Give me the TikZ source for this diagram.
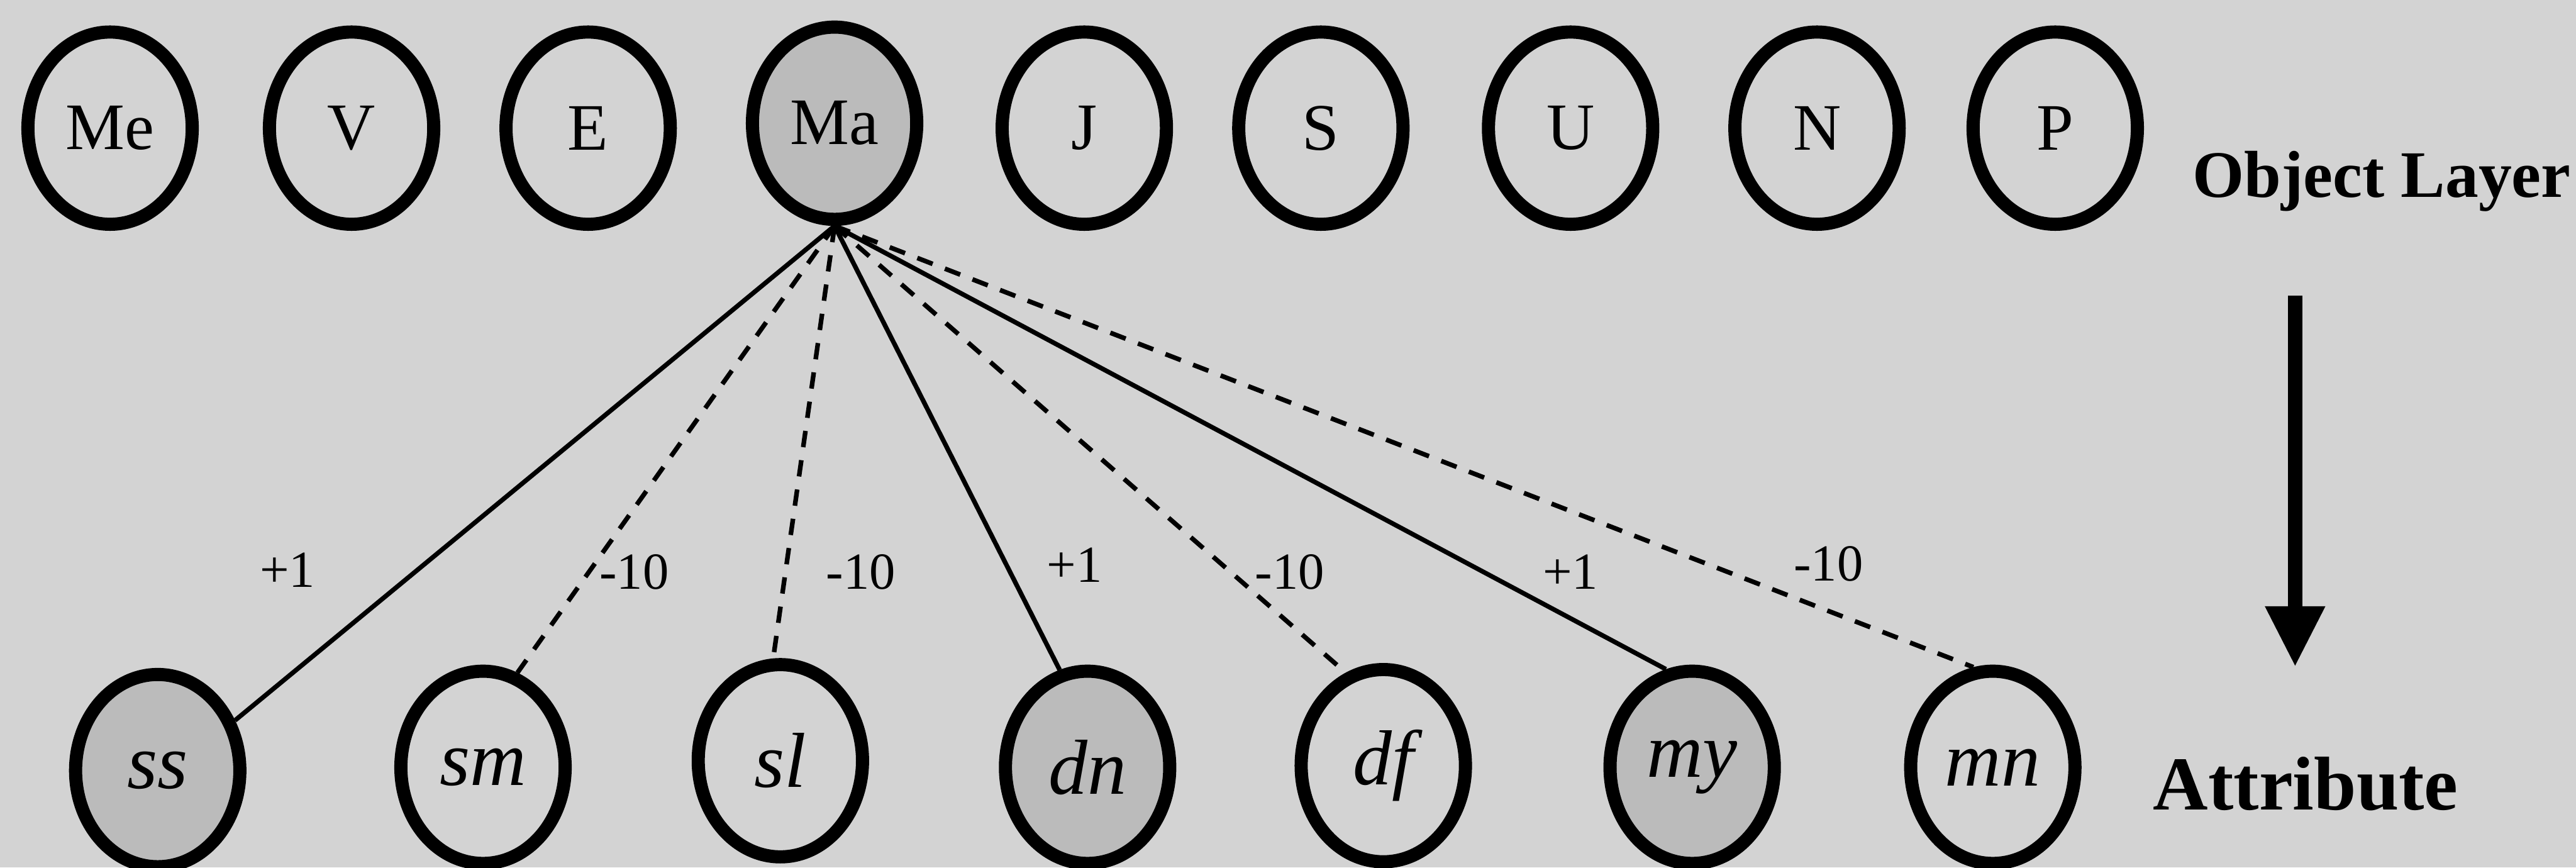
\documentclass[tikz,border=0pt]{standalone}
\usepackage{fontspec}
\setmainfont{Liberation Serif}
\usetikzlibrary{shapes.geometric,arrows.meta}
\definecolor{scanGray}{HTML}{D3D3D3}
\definecolor{hitGray}{HTML}{BBBBBB}

\begin{document}
\begin{tikzpicture}[x=1cm,y=1cm,
  obj/.style={draw,ellipse,line width=0.08cm,minimum width=1cm,minimum height=1.17cm,inner sep=0pt,font=\fontsize{11.5}{13}\selectfont},
  attr/.style={obj,font=\fontsize{13.5}{15}\selectfont\itshape},
  marked/.style={fill=hitGray},
  posedge/.style={line width=0.8pt},
  negedge/.style={line width=0.8pt,dash pattern=on 0.1cm off 0.08cm},
  wt/.style={font=\fontsize{9}{10}\selectfont,inner sep=1pt},
  layer/.style={font=\fontsize{11.5}{13}\selectfont\bfseries,inner sep=0pt}]
  \fill[scanGray] (0,0) rectangle (15.68,5.28);
  \useasboundingbox (0,0) rectangle (15.68,5.28);

  \node[obj] (Me) at (0.67,4.50) {Me};
  \node[obj] (V) at (2.14,4.50) {V};
  \node[obj] (E) at (3.58,4.50) {E};
  \node[obj,marked] (Ma) at (5.08,4.53) {Ma};
  \node[obj] (J) at (6.60,4.50) {J};
  \node[obj] (S) at (8.04,4.50) {S};
  \node[obj] (U) at (9.56,4.50) {U};
  \node[obj] (N) at (11.06,4.50) {N};
  \node[obj] (P) at (12.51,4.50) {P};
  \node[layer,anchor=base west] (objlayer) at (13.34,4.08) {Object Layer};

  \node[attr,marked] (ss) at (0.96,0.59) {ss};
  \node[attr] (sm) at (2.94,0.61) {sm};
  \node[attr] (sl) at (4.75,0.65) {sl};
  \node[attr,marked] (dn) at (6.62,0.61) {dn};
  \node[attr] (df) at (8.42,0.62) {df};
  \node[attr,marked] (my) at (10.30,0.61) {my};
  \node[attr] (mn) at (12.13,0.61) {mn};
  \node[layer,font=\fontsize{13.2}{15}\selectfont\bfseries,anchor=base west] (attrlayer) at (13.10,0.35) {Attribute};

  \draw[posedge] (Ma.south) -- (ss.33);
  \draw[negedge] (Ma.south) -- (sm.70);
  \draw[negedge] (Ma.south) -- (sl.94);
  \draw[posedge] (Ma.south) -- (dn.106);
  \draw[negedge] (Ma.south) -- (df.112);
  \draw[posedge] (Ma.south) -- (my.105);
  \draw[negedge] (Ma.south) -- (mn.101);

  \node[wt] (w1) at (1.75,1.81) {+1};
  \node[wt] (w2) at (3.86,1.80) {-10};
  \node[wt] (w3) at (5.24,1.80) {-10};
  \node[wt] (w4) at (6.54,1.84) {+1};
  \node[wt] (w5) at (7.85,1.80) {-10};
  \node[wt] (w6) at (9.56,1.80) {+1};
  \node[wt] (w7) at (11.13,1.85) {-10};

  \coordinate (ltop) at (13.97,3.48);
  \coordinate (lbot) at (13.97,1.22);
  \draw[line width=0.09cm,-{Triangle[length=0.37cm,width=0.34cm]}] (ltop) -- (lbot);
\end{tikzpicture}
\end{document}
